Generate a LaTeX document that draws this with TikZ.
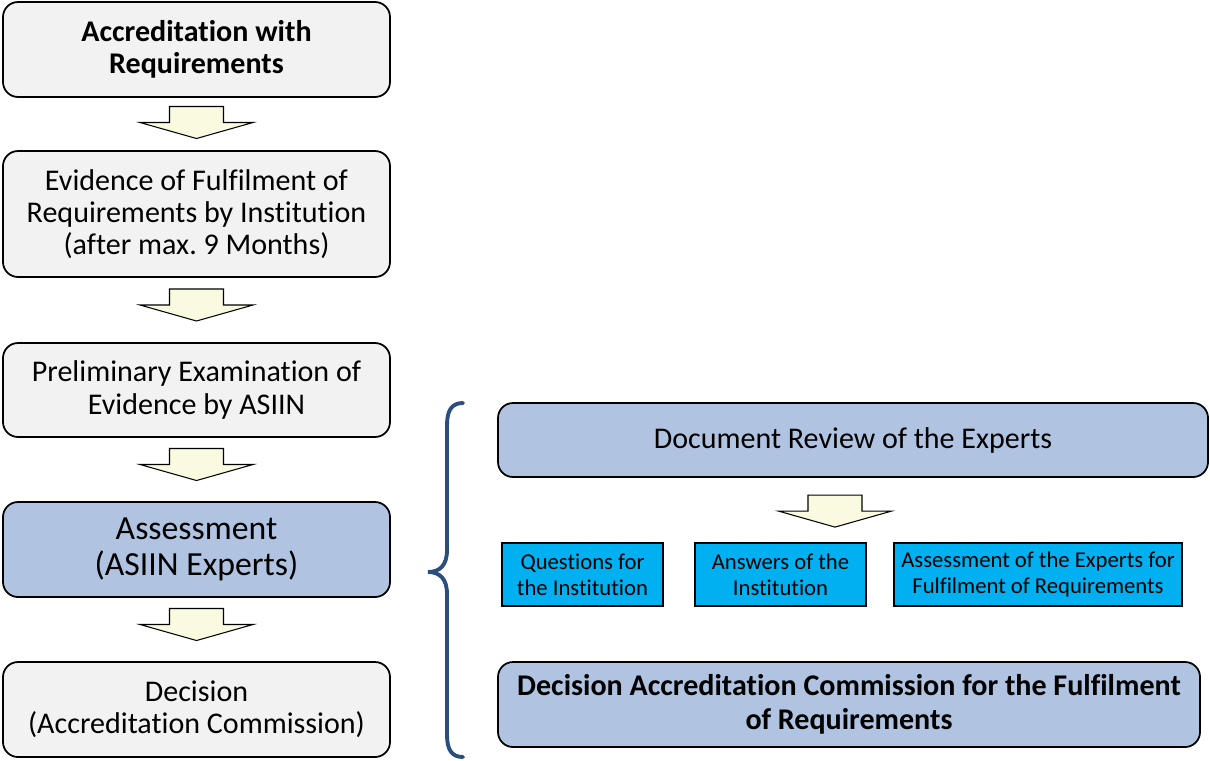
\documentclass[tikz,border=0pt]{standalone}
\usepackage{fontspec}
\setmainfont[Ligatures=NoCommon]{Carlito}
\usetikzlibrary{calc}

\definecolor{boxgray}{HTML}{F2F2F2}
\definecolor{boxblue}{HTML}{B0C4E2}
\definecolor{boxcyan}{HTML}{00B0F0}
\definecolor{arrowfill}{HTML}{FAFAE1}
\definecolor{bracecol}{HTML}{2A4E7E}

\tikzset{
  stage/.style={draw, line width=1pt, rounded corners=0.3cm, fill=boxgray,
    minimum width=7.74cm, minimum height=1.9cm, align=center,
    font=\fontsize{17.1}{18.3}\selectfont},
  panel/.style={stage, fill=boxblue},
  task/.style={draw, line width=0.8pt, fill=boxcyan, minimum height=1.26cm,
    align=center, font=\fontsize{12.9}{14.8}\selectfont},
  flowarrow/.pic={
    \draw[fill=arrowfill, line width=0.6pt] (-0.54,0.32) -- (0.54,0.32) -- (0.54,0)
      -- (1.13,0) -- (0,-0.32) -- (-1.13,0) -- (-0.54,0) -- cycle;
  }
}

\begin{document}
\begin{tikzpicture}
  \useasboundingbox (0,0) rectangle (24.2,-15.2);

  % left column: the stages
  \node[stage, font=\fontsize{17.1}{18.3}\selectfont\bfseries] (accr) at (3.93,-0.99)
    {Accreditation with\\Requirements};
  \node[stage, minimum height=2.52cm] (evid) at (3.93,-4.28)
    {Evidence of Fulfilment of\\Requirements by Institution\\(after max.\ 9 Months)};
  \node[stage, minimum height=1.88cm] (prelim) at (3.93,-7.8)
    {Preliminary Examination of\\Evidence by ASIIN};
  \node[panel, font=\fontsize{19.2}{20.6}\selectfont] (assess) at (3.93,-10.99)
    {Assessment\\(ASIIN Experts)};
  \node[stage] (decision) at (3.93,-14.19)
    {Decision\\(Accreditation Commission)};

  \pic at ($(accr.south)!0.5!(evid.north)+(0,0.03)$) {flowarrow};
  \pic at ($(evid.south)!0.5!(prelim.north)+(0,0.1)$) {flowarrow};
  \pic at ($(prelim.south)!0.5!(assess.north)+(0,0.1)$) {flowarrow};
  \pic at ($(assess.south)!0.5!(decision.north)+(0,0.1)$) {flowarrow};

  % right column: what the assessment consists of
  \node[panel, minimum width=14.2cm, minimum height=1.48cm] (review) at (17.06,-8.8)
    {Document Review of the Experts};
  \node[task, minimum width=3.22cm] (questions) at (11.65,-11.49)
    {Questions for\\the Institution};
  \node[task, minimum width=3.42cm] (answers) at (15.61,-11.49)
    {Answers of the\\Institution};
  \node[task, minimum width=5.76cm] (expertise) at (20.76,-11.49)
    {Assessment of the Experts for\\Fulfilment of Requirements};
  \node[panel, minimum width=14.04cm, minimum height=1.7cm,
    font=\fontsize{17.1}{19.5}\selectfont\bfseries] (commission) at (16.98,-14.09)
    {Decision Accreditation Commission for the Fulfilment\\of Requirements};

  \pic at ($($(review.south)!0.5!(review.south |- answers.north)$)+(-0.36,-0.02)$) {flowarrow};

  % brace
  \draw[bracecol, line width=2.2pt, line cap=round]
    (9.26,-8.06) .. controls (9.04,-8.06) and (8.94,-8.2) .. (8.94,-8.5)
    -- (8.94,-11.0) .. controls (8.94,-11.3) and (8.8,-11.44) .. (8.56,-11.44)
    .. controls (8.8,-11.44) and (8.94,-11.58) .. (8.94,-11.88)
    -- (8.94,-14.7) .. controls (8.94,-15.0) and (9.04,-15.14) .. (9.26,-15.14);
\end{tikzpicture}
\end{document}
